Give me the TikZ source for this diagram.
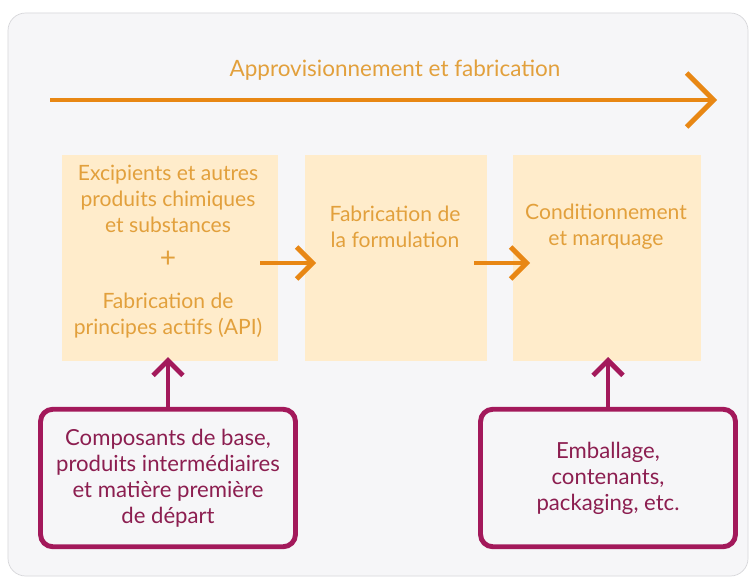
\documentclass[tikz,border=0pt]{standalone}
\usepackage{fontspec}
\setmainfont{Lato}
\usetikzlibrary{
  arrows.meta,
  positioning
}
\definecolor{panelgray}{RGB}{246,246,248}
\definecolor{panelline}{RGB}{215,215,218}
\definecolor{flowrange}{RGB}{232,135,20}
\definecolor{stagetext}{RGB}{226,160,60}
\definecolor{stagefill}{RGB}{255,236,203}
\definecolor{supplyplum}{RGB}{163,25,91}
\definecolor{supplytext}{RGB}{140,30,80}

\begin{document}
\begin{tikzpicture}[
  x=0.02cm, y=-0.02cm,
  stage/.style={fill=stagefill, draw=none, minimum height=4.14cm},
  stagelbl/.style={align=center, text=stagetext, font=\fontsize{12}{14.8}\selectfont},
  supply/.style={draw=supplyplum, line width=2.8pt, rounded corners=7pt, fill=panelgray,
                 minimum width=5.1cm, minimum height=2.75cm, align=center,
                 text=supplytext, font=\fontsize{12.6}{14.8}\selectfont},
  flow/.style={draw=flowrange, line width=2.8pt, -{Straight Barb[length=3.2mm, width=6.4mm, line width=2.8pt]}},
  bigflow/.style={draw=flowrange, line width=2.8pt, -{Straight Barb[length=5.4mm, width=10.8mm, line width=2.8pt]}},
  feed/.style={draw=supplyplum, line width=2.8pt, -{Straight Barb[length=3mm, width=6mm, line width=2.8pt]}}
]

\useasboundingbox (0,0) rectangle (753,581);
\fill[white] (0,0) rectangle (753,581);
\draw[panelline, fill=panelgray, rounded corners=10pt] (8,13) rectangle (748,576);

% Title arrow
\node[text=stagetext, font=\fontsize{12.8}{14}\selectfont] (title) at (395,70) {Approvisionnement et fabrication};
\coordinate (flowstart) at (50,100);
\coordinate (flowend) at (717,100);
\draw[bigflow] (flowstart) -- (flowend);

% Stages
\node[stage, minimum width=4.32cm] (api) at (170,258) {};
\node[stage, minimum width=3.64cm] (form) at (396,258) {};
\node[stage, minimum width=3.76cm] (pack) at (607,258) {};

\node[stagelbl] (apitop) at (168,199) {Excipients et autres\\produits chimiques\\et substances};
\node[stagelbl, font=\fontsize{16}{16}\selectfont] (plus) at (168,259) {+};
\node[stagelbl] (apibot) at (168,316) {Fabrication de\\principes actifs (API)};
\node[stagelbl] (formlbl) at (395,227) {Fabrication de\\la formulation};
\node[stagelbl] (packlbl) at (606,227) {Conditionnement\\et marquage};

\coordinate (a1) at (260,263);
\coordinate (a2) at (316,263);
\coordinate (b1) at (474,263);
\coordinate (b2) at (530,263);
\draw[flow] (a1) -- (a2);
\draw[flow] (b1) -- (b2);

% Supplies
\node[supply] (base) at (168,478) {Composants de base,\\produits intermédiaires\\et matière première\\de départ};
\node[supply] (emb) at (608,478) {Emballage,\\contenants,\\packaging, etc.};

\coordinate (apiin) at (168,357);
\coordinate (packin) at (608,357);
\draw[feed] (base.north) -- (apiin);
\draw[feed] (emb.north) -- (packin);

\end{tikzpicture}
\end{document}
